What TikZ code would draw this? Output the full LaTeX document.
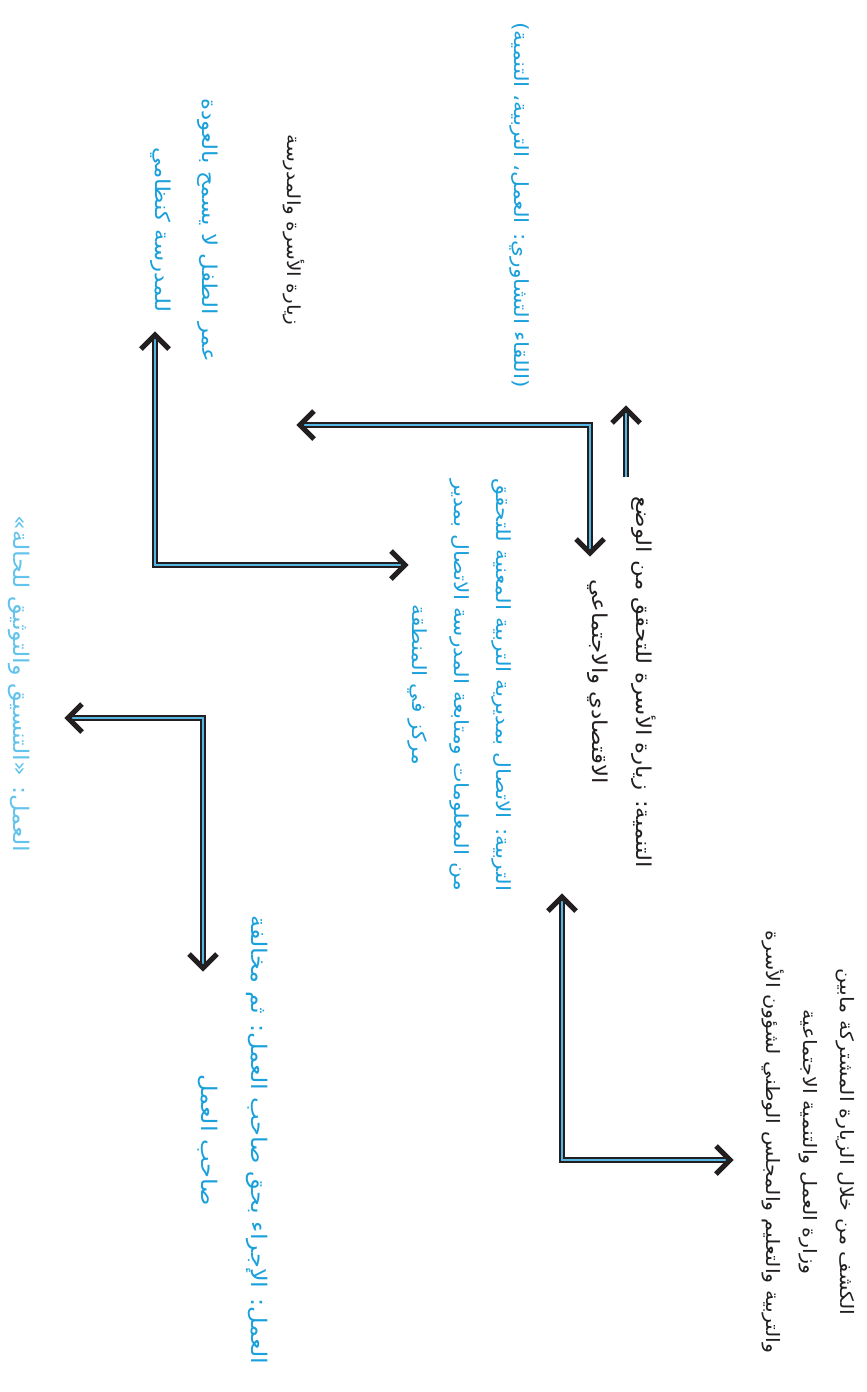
\documentclass[tikz,border=0pt]{standalone}
\usepackage{fontspec}
\newfontfamily\arabicfont[Script=Arabic, FakeStretch=1.12]{DejaVu Sans}
\TeXXeTstate=1
\definecolor{ink}{HTML}{231F20}
\definecolor{textblue}{HTML}{1AA0DB}
\definecolor{paleblue}{HTML}{62C3EC}
\definecolor{pipeblue}{HTML}{55B6E4}
\newcommand{\rl}[1]{\beginR #1\endR}

\begin{document}
\begin{tikzpicture}[x=1pt,y=-1pt,
  arabic/.style 2 args={font=\arabicfont\fontsize{#1}{#2}\selectfont},
  note/.style={rotate=-90, align=center, inner sep=0pt},
  blk/.style={note, text=ink},
  blu/.style={note, text=textblue},
  pale/.style={note, text=paleblue},
  pipe/.style={draw=ink, line width=2pt, double=pipeblue, double distance=2pt,
               line join=miter},
  chevron/.pic={\draw[draw=ink, line width=5pt, line join=miter, line cap=butt]
                (-14,14) -- (0,0) -- (14,14);}
]
\useasboundingbox (0,0) rectangle (867,1392);
\fill[white] (0,0) rectangle (867,1392);

% ---- text blocks ----
\node[blk, arabic={18.5}{37}] (joint) at (808,1142)
  {\rl{الكشف من خلال الزيارة المشتركة مابين}\\
   \rl{وزارة العمل والتنمية الاجتماعية}\\
   \rl{والتربية والتعليم والمجلس الوطني لشؤون الأسرة}};

\node[blk, arabic={20.5}{44}] (develop) at (622,682)
  {\rl{التنمية: زيارة الأسرة للتحقق من الوضع}\\
   \rl{الاقتصادي والاجتماعي}};

\node[blu, arabic={19.5}{42}] (educ) at (460,685)
  {\rl{التربية: الاتصال بمديرية التربية المعنية للتحقق}\\
   \rl{من المعلومات ومتابعة المدرسة الاتصال بمدير}\\
   \rl{مركز في المنطقة}};

\node[blu, arabic={19.5}{37}] (meeting) at (520,205)
  {\rl{(اللقاء التشاوري: العمل، التربية، التنمية)}};

\node[blk, arabic={18}{37}] (home) at (294,230)
  {\rl{زيارة الأسرة والمدرسة}};

\node[blu, arabic={20.5}{47}] (age) at (184,230)
  {\rl{عمر الطفل لا يسمح بالعودة}\\
   \rl{للمدرسة كنظامي}};

\node[pale, arabic={21.5}{37}] (coord) at (19,684)
  {\rl{العمل: «التنسيق والتوثيق للحالة»}};

\node[blu, arabic={21.5}{50}] (employer) at (233,1140)
  {\rl{العمل: الإجراء بحق صاحب العمل: ثم مخالفة}\\
   \rl{صاحب العمل}};

% ---- connector points ----
\coordinate (a0) at (626,477);
\coordinate (a1) at (626,409);

\coordinate (b0) at (300,425);
\coordinate (b1) at (590,425);
\coordinate (b2) at (590,553);

\coordinate (c0) at (155,335);
\coordinate (c1) at (155,565);
\coordinate (c2) at (405,565);

\coordinate (d0) at (68,718);
\coordinate (d1) at (203,718);
\coordinate (d2) at (203,968);

\coordinate (e0) at (562,897);
\coordinate (e1) at (562,1160);
\coordinate (e2) at (730,1160);

% ---- connectors ----
\draw[pipe, shorten >=3pt] (a0) -- (a1);
\draw[pipe, shorten <=3pt, shorten >=3pt] (b0) -- (b1) -- (b2);
\draw[pipe, shorten <=3pt, shorten >=3pt] (c0) -- (c1) -- (c2);
\draw[pipe, shorten <=3pt, shorten >=3pt] (d0) -- (d1) -- (d2);
\draw[pipe, shorten <=3pt, shorten >=3pt] (e0) -- (e1) -- (e2);

% ---- arrowheads ----
\pic at (a1) {chevron};
\pic[rotate=90] at (b0) {chevron};
\pic[rotate=180] at (b2) {chevron};
\pic at (c0) {chevron};
\pic[rotate=-90] at (c2) {chevron};
\pic[rotate=90] at (d0) {chevron};
\pic[rotate=180] at (d2) {chevron};
\pic at (e0) {chevron};
\pic[rotate=-90] at (e2) {chevron};
\end{tikzpicture}
\end{document}
